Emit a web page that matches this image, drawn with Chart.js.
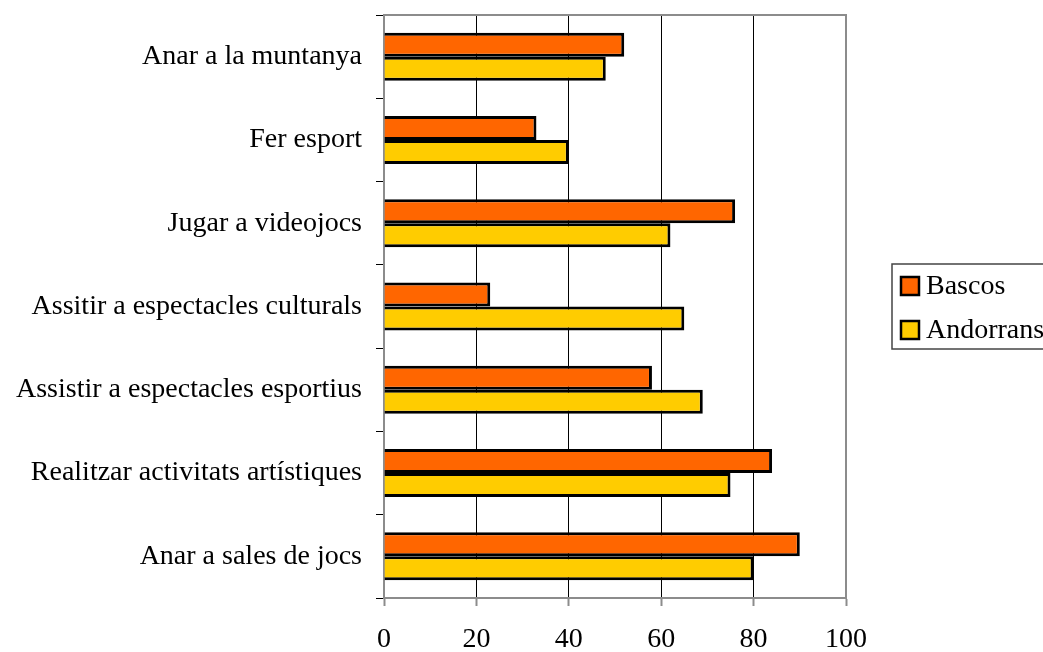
<!DOCTYPE html>
<html>
<head>
<meta charset="utf-8">
<script src="https://cdn.jsdelivr.net/npm/chart.js@4.4.1/dist/chart.umd.min.js"></script>
<style>
  html, body { margin: 0; padding: 0; background: #fff; }
  #wrap { width: 1043px; height: 652px; }
</style>
</head>
<body>
<div id="wrap"><canvas id="chart" width="1043" height="652"></canvas></div>
<script>
// activitats - Bascos vs Andorrans
const categories = [
    'Anar a la muntanya',
    'Fer esport',
    'Jugar a videojocs',
    'Assitir a espectacles culturals',
    'Assistir a espectacles esportius',
    'Realitzar activitats artístiques',
    'Anar a sales de jocs'
];
const bascos = [52, 33, 76, 23, 58, 84, 90];
const andorrans = [48, 40, 62, 65, 69, 75, 80];
const xTicks = [0, 20, 40, 60, 80, 100];

const FONT = 'Liberation Serif, Times New Roman, serif';

// plot frame (top + right edge) and the boxed legend on the right
const framePlugin = {
    id: 'frame',
    afterDraw: function(chart) {
        const ctx = chart.ctx;
        const a = chart.chartArea;
        ctx.save();
        ctx.strokeStyle = '#8c8c8c';
        ctx.lineWidth = 2;
        ctx.beginPath();
        ctx.moveTo(a.left, a.top);
        ctx.lineTo(a.right, a.top);
        ctx.lineTo(a.right, a.bottom);
        ctx.stroke();

        // legend
        const lx = 892, ly = 264, lw = 170, lh = 85;
        ctx.strokeStyle = '#444';
        ctx.lineWidth = 1.5;
        ctx.strokeRect(lx, ly, lw, lh);
        ctx.font = '28px ' + FONT;
        ctx.textBaseline = 'middle';
        chart.data.datasets.forEach(function(ds, i) {
            const cy = 286 + i * 44;
            ctx.fillStyle = ds.backgroundColor;
            ctx.fillRect(901, cy - 9, 18, 18);
            ctx.strokeStyle = '#000';
            ctx.lineWidth = 2.5;
            ctx.strokeRect(901, cy - 9, 18, 18);
            ctx.fillStyle = '#000';
            ctx.fillText(ds.label, 926, cy + 1);
        });
        ctx.restore();
    }
};

const ctx = document.getElementById('chart').getContext('2d');
const chart = new Chart(ctx, {
    type: 'bar',
    data: {
        labels: categories,
        datasets: [{
            label: 'Bascos',
            data: bascos,
            backgroundColor: '#ff6600',
            borderColor: '#000',
            borderWidth: 3
        }, {
            label: 'Andorrans',
            data: andorrans,
            backgroundColor: '#ffcc00',
            borderColor: '#000',
            borderWidth: 3
        }]
    },
    options: {
        indexAxis: 'y',
        responsive: false,
        animation: false,
        categoryPercentage: 0.576,
        barPercentage: 1,
        layout: {
            padding: { top: 15, right: 197, left: 0, bottom: 0 }
        },
        plugins: {
            legend: { display: false },
            tooltip: { enabled: false }
        },
        scales: {
            x: {
                min: 0,
                max: 100,
                afterBuildTicks: function(scale) {
                    scale.ticks = xTicks.map(v => ({ value: v }));
                },
                afterFit: function(scale) {
                    scale.height = 54;
                    scale.paddingLeft = 0;
                    scale.paddingRight = 0;
                },
                grid: {
                    color: c => (c.tick && (c.tick.value === 0 || c.tick.value === 100)) ? 'rgba(0,0,0,0)' : '#000',
                    lineWidth: 1,
                    tickColor: '#8c8c8c',
                    tickLength: 8,
                    tickWidth: 2
                },
                border: { color: '#8c8c8c', width: 2 },
                ticks: {
                    color: '#000',
                    padding: 17,
                    maxRotation: 0,
                    font: { family: FONT, size: 28 }
                }
            },
            y: {
                afterFit: function(scale) {
                    scale.width = 384;
                    scale.paddingTop = 0;
                    scale.paddingBottom = 0;
                },
                grid: {
                    drawOnChartArea: false,
                    tickColor: '#000',
                    tickLength: 8,
                    tickWidth: 1
                },
                border: { color: '#8c8c8c', width: 2 },
                ticks: {
                    color: '#000',
                    padding: 14,
                    font: { family: FONT, size: 28 }
                }
            }
        }
    },
    plugins: [framePlugin]
});
</script>
</body>
</html>
